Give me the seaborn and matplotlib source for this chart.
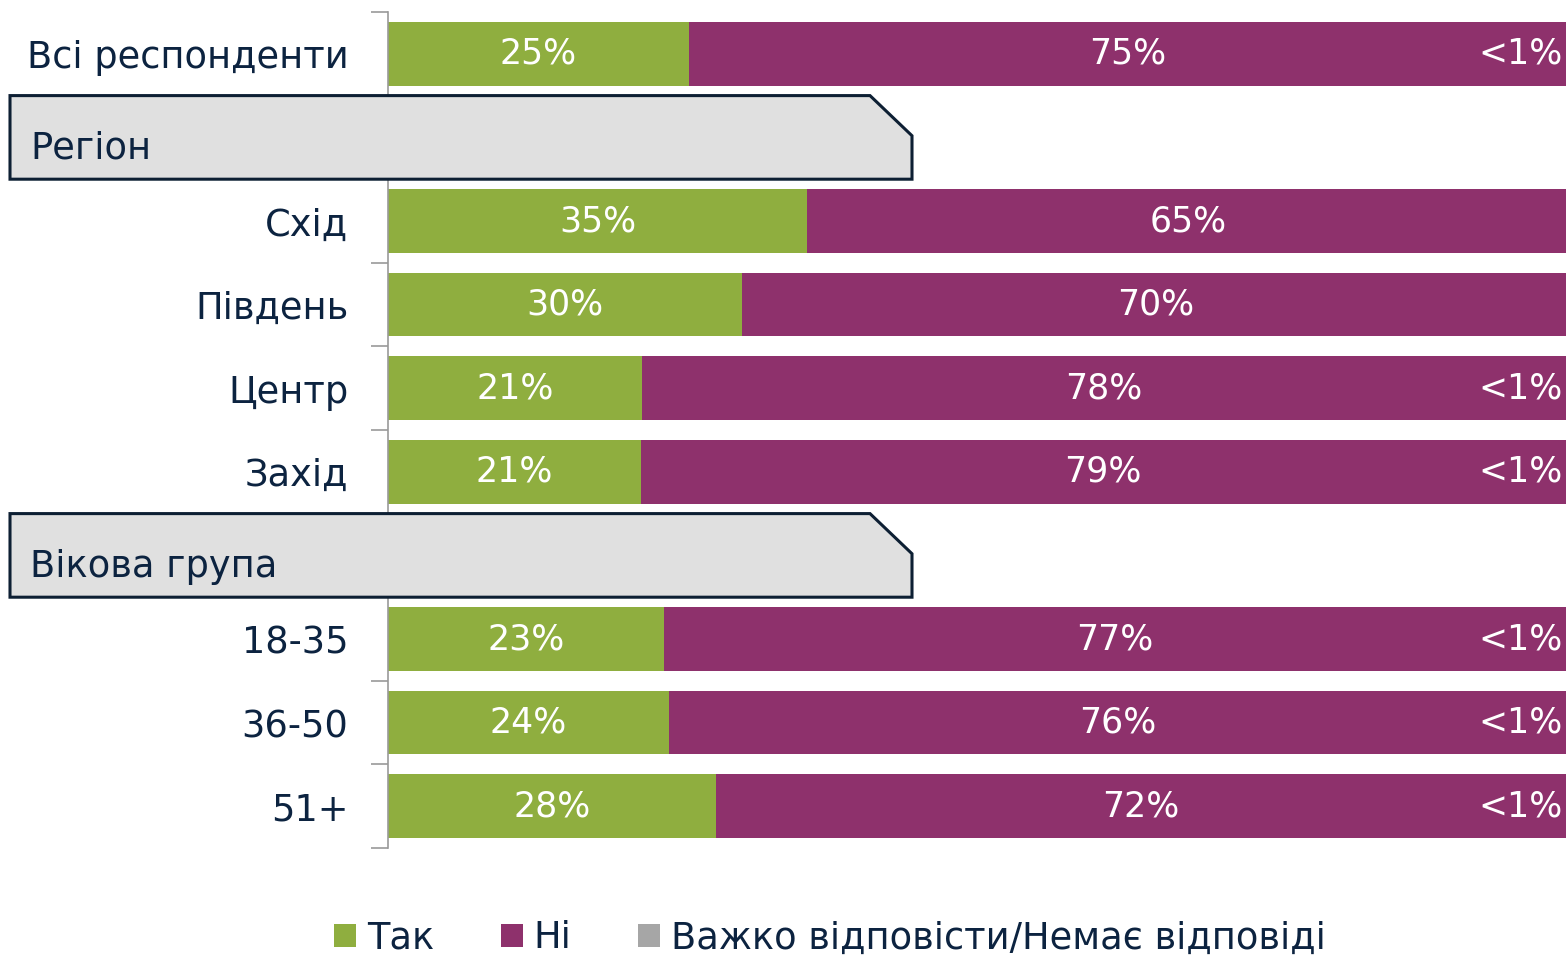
import matplotlib
matplotlib.use("Agg")
import matplotlib.pyplot as plt
import seaborn as sns
import pandas as pd
import numpy as np
from matplotlib.patches import Polygon, Patch
from matplotlib.transforms import blended_transform_factory

# data (percent)
groups = ["Всі респонденти", "Схід", "Південь", "Центр", "Захід", "18-35", "36-50", "51+"]
tak = [25.5, 35.5, 30.0, 21.5, 21.4, 23.4, 23.8, 27.8]
ni = [74.3, 64.5, 70.0, 78.3, 78.4, 76.4, 76.0, 72.0]
dk = [0.2, 0.0, 0.0, 0.2, 0.2, 0.2, 0.2, 0.2]
tak_lbl = ["25%", "35%", "30%", "21%", "21%", "23%", "24%", "28%"]
ni_lbl = ["75%", "65%", "70%", "78%", "79%", "77%", "76%", "72%"]
dk_lbl = ["<1%", "", "", "<1%", "<1%", "<1%", "<1%", "<1%"]

headers = ["Регіон", "Вікова група"]
order = ["Всі респонденти", "Регіон", "Схід", "Південь", "Центр", "Захід",
         "Вікова група", "18-35", "36-50", "51+"]
legend_names = ["Так", "Ні", "Важко відповісти/Немає відповіді"]

GREEN = "#8fae3f"
PURPLE = "#8e316c"
GREY = "#a6a6a6"
NAVY = "#0c2340"
FS = 26.5    # category / legend text
FS_VAL = 25  # numbers inside bars

sns.set_style("white")
plt.rcParams["font.family"] = ["DejaVu Sans"]

df = pd.DataFrame({"group": groups, "tak": tak, "ni": ni, "dk": dk})
df["c2"] = df["tak"] + df["ni"]
df["c3"] = df["c2"] + df["dk"]

fig = plt.figure(figsize=(15.66, 9.6), dpi=100)
ax = fig.add_axes([388 / 1566, 1 - 848 / 960, 1 - 388 / 1566, 836 / 960])

# overlay cumulative totals to get stacked bars
for col, c in [("c3", GREY), ("c2", PURPLE), ("tak", GREEN)]:
    sns.barplot(data=df, y="group", x=col, order=order, color=c, width=0.76,
                saturation=1, orient="h", ax=ax, linewidth=0)

# the <1% slivers are too thin to see in the original
ax.set_xlim(0, 99.8)
ax.set_ylim(9.5, -0.5)
ax.set_xlabel("")
ax.set_ylabel("")
ax.set_xticks([])

pos = {g: i for i, g in enumerate(order)}
for i, g in enumerate(groups):
    y = pos[g]
    ax.text(tak[i] / 2, y, tak_lbl[i], color="white", fontsize=FS_VAL, ha="center", va="center")
    ax.text(tak[i] + ni[i] / 2, y, ni_lbl[i], color="white", fontsize=FS_VAL, ha="center", va="center")
    if dk_lbl[i]:
        ax.text(99.5, y, dk_lbl[i], color="white", fontsize=FS_VAL, ha="right", va="center")

ax.set_yticks(range(len(order)))
ax.set_yticklabels(["" if o in headers else o for o in order], fontsize=FS, color=NAVY)
ax.tick_params(axis="y", which="major", left=False, pad=25)
ax.set_yticks(np.arange(-0.5, len(order), 1), minor=True)
ax.tick_params(axis="y", which="minor", left=True, length=12, color="#999999", width=1.2)

for s in ["top", "right", "bottom"]:
    ax.spines[s].set_visible(False)
ax.spines["left"].set_color("#999999")
ax.spines["left"].set_linewidth(1.2)

# header boxes with cut corner
tr = blended_transform_factory(fig.transFigure, ax.transData)
x0, x1, xc = 10 / 1566, 912 / 1566, 870 / 1566
for h in headers:
    y = pos[h]
    top, bot = y - 0.5, y + 0.5
    poly = Polygon([(x0, top), (xc, top), (x1, top + 0.48), (x1, bot), (x0, bot)],
                   closed=True, transform=tr, facecolor="#e0e0e0", edgecolor="#0d1f33",
                   linewidth=2.2, clip_on=False, zorder=10)
    ax.add_patch(poly)
    ax.text(30 / 1566, y + 0.13, h, transform=tr, fontsize=FS, color=NAVY,
            ha="left", va="center", zorder=11)

handles = [Patch(facecolor=c, edgecolor="none") for c in [GREEN, PURPLE, GREY]]
fig.legend(handles, legend_names, loc="center", bbox_to_anchor=(830 / 1566, 1 - 938 / 960),
           ncol=3, frameon=False, fontsize=FS, labelcolor=NAVY, handlelength=0.6,
           handleheight=0.6, handletextpad=0.3, columnspacing=1.8)

fig.savefig("out.png", dpi=100)
